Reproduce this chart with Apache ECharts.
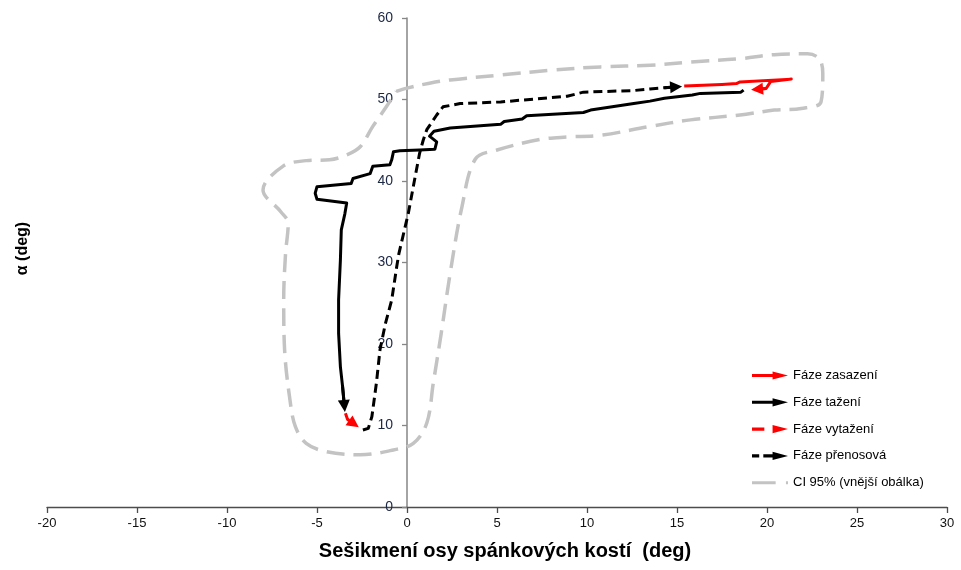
<!DOCTYPE html>
<html>
<head>
<meta charset="utf-8">
<script src="https://cdn.jsdelivr.net/npm/echarts@6/dist/echarts.min.js"></script>
<style>
  html, body { margin: 0; padding: 0; background: #ffffff; }
  #chart { width: 961px; height: 570px; }
</style>
</head>
<body>
<div id="chart"></div>
<script>
// Phase trajectories: [skew of temporal-bone axis (deg), alpha (deg)]
const zasazeni = [
  [15.4, 51.65], [17.5, 51.85], [18.3, 51.95], [18.5, 52.15], [21.35, 52.5],
  [20.2, 52.2], [19.95, 51.35], [19.45, 51.25]
];

const tazeni = [
  [18.7, 51.15], [18.55, 50.9], [16.3, 50.75], [15.85, 50.55], [14.3, 50.15],
  [13.5, 49.8], [12.6, 49.5], [10.2, 48.7], [9.8, 48.4], [6.65, 48.0],
  [6.4, 47.6], [5.4, 47.3], [5.2, 46.95], [2.4, 46.5], [1.5, 46.1],
  [1.25, 45.5], [1.65, 44.8], [1.55, 43.9], [0.7, 43.8], [-0.4, 43.7],
  [-0.75, 43.6], [-0.85, 42.6], [-0.95, 42.0], [-1.9, 41.8], [-2.05, 40.9],
  [-3.0, 40.3], [-3.1, 39.7], [-5.0, 39.3], [-5.1, 38.5], [-5.0, 37.75],
  [-3.35, 37.3], [-3.45, 36.0], [-3.65, 34.0], [-3.7, 30.3], [-3.8, 25.4],
  [-3.8, 21.3], [-3.7, 17.2], [-3.58, 14.8], [-3.48, 12.4]
];

const vytazeni = [
  [-3.42, 11.5], [-3.3, 10.75], [-2.95, 10.2]
];

const prenosova = [
  [-2.45, 9.45], [-2.15, 9.65], [-1.95, 11.1], [-1.7, 15.2], [-1.5, 19.3],
  [-1.2, 22.5], [-0.85, 25.4], [-0.57, 29.5], [-0.45, 31.1], [0.07, 36.0],
  [0.45, 40.5], [0.7, 43.4], [0.9, 45.0], [1.1, 46.3], [1.65, 48.1],
  [2.0, 49.1], [2.95, 49.5], [5.2, 49.7], [8.9, 50.4], [9.8, 50.9],
  [12.6, 51.1], [13.5, 51.3], [14.3, 51.45], [14.95, 51.55]
];

// 95% confidence outer envelope (closed contour)
const ciObalka = [
  [-0.6, 51.0], [0, 51.4], [1.25, 52.0], [2.4, 52.4], [5.2, 53.0],
  [8.0, 53.6], [10.75, 54.0], [13.5, 54.2], [15.75, 54.6], [18.5, 55.0],
  [20.4, 55.5], [22.25, 55.6], [22.9, 55.0], [23.1, 53.2], [23.0, 49.7],
  [21.9, 48.9], [20.4, 48.7], [18.5, 48.1], [15.75, 47.5], [13.5, 46.7],
  [10.75, 45.6], [8.9, 45.4], [7.4, 45.1], [5.0, 43.8], [3.8, 42.7],
  [3.05, 36.8], [2.4, 28.7], [1.9, 21.3], [1.46, 15.2], [1.1, 10.3],
  [0.35, 7.8], [-0.76, 7.0], [-2.6, 6.4], [-4.5, 6.8], [-5.6, 7.8],
  [-6.2, 9.85], [-6.5, 13.1], [-6.8, 19.3], [-6.85, 25.4], [-6.75, 31.0],
  [-6.6, 34.8], [-7.0, 36.2], [-8.0, 38.9], [-6.9, 41.8], [-5.6, 42.5],
  [-4.3, 42.6], [-3.35, 43.2], [-2.6, 44.2], [-1.9, 46.7], [-1.15, 49.1],
  [-0.6, 51.0]
];

const seriesNames = ['Fáze zasazení', 'Fáze tažení', 'Fáze vytažení', 'Fáze přenosová', 'CI 95% (vnější obálka)'];
const xRange = { min: -20, max: 30, interval: 5 };
const yRange = { min: 0, max: 60, interval: 10 };

const RED = '#ff0000';
const BLACK = '#000000';
const GRAY = '#c3c3c3';
const FONT = "'Liberation Sans Narrow', 'Liberation Sans', Arial, sans-serif";

// Plot area in pixels; the vertical axis is drawn through x = 0
const GRID = { left: 47, right: 14, top: 18, bottom: 63 };
const plotWidth = 961 - GRID.left - GRID.right;
const yAxisShift = plotWidth * (0 - xRange.min) / (xRange.max - xRange.min);

// Legend icons: line stroke followed by arrowhead (36 x 12 box)
const icons = {
  solidArrow: 'path://M0,4.5 L21,4.5 L21,7.5 L0,7.5 Z M20,2 L35,6 L20,10 Z',
  dashArrow: 'path://M0,4.5 L12,4.5 L12,7.5 L0,7.5 Z M20,2 L35,6 L20,10 Z',
  dashDashArrow: 'path://M0,4.5 L7,4.5 L7,7.5 L0,7.5 Z M11,4.5 L21,4.5 L21,7.5 L11,7.5 Z M20,2 L35,6 L20,10 Z',
  grayDash: 'path://M0,4.5 L23,4.5 L23,7.5 L0,7.5 Z M33,4.5 L35,4.5 L35,7.5 L33,7.5 Z'
};

function pathSeries(name, data, color, dash, width) {
  return {
    type: 'line', name, data,
    symbol: 'none', smooth: false,
    itemStyle: { color },
    lineStyle: { color, width, type: dash, cap: 'butt', join: 'round' },
    z: 3, silent: true
  };
}

// Arrowhead placed on the final segment of a trajectory
function arrowSeries(name, data, color, dash) {
  return {
    type: 'lines', name, coordinateSystem: 'cartesian2d',
    symbol: ['none', 'triangle'], symbolSize: 12,
    lineStyle: { color, width: 3, opacity: 1, curveness: 0, type: dash },
    data: [{ coords: [data[data.length - 2], data[data.length - 1]] }],
    z: 4, silent: true
  };
}

const chart = echarts.init(document.getElementById('chart'), null, { renderer: 'canvas' });

chart.setOption({
  animation: false,
  backgroundColor: '#ffffff',
  grid: Object.assign({ containLabel: false, outerBoundsMode: 'none' }, GRID),
  xAxis: {
    type: 'value', min: xRange.min, max: xRange.max, interval: xRange.interval,
    name: 'Sešikmení osy spánkových kostí  (deg)',
    nameLocation: 'middle', nameGap: 34,
    nameTextStyle: { fontFamily: FONT, fontSize: 20, fontWeight: 'bold', color: '#000', padding: [0, 0, 0, 16] },
    axisLine: { onZero: true, lineStyle: { color: '#4d4d4d', width: 1.3 } },
    axisTick: { show: true, length: 6, lineStyle: { color: '#4d4d4d', width: 1.3 } },
    axisLabel: { fontFamily: FONT, fontSize: 13, color: '#111', margin: 10 },
    splitLine: { show: false }
  },
  yAxis: {
    type: 'value', min: yRange.min, max: yRange.max, interval: yRange.interval,
    position: 'left', offset: -yAxisShift,
    name: 'α (deg)',
    nameLocation: 'middle', nameGap: 376, nameRotate: 90,
    nameTextStyle: { fontFamily: FONT, fontSize: 16, fontWeight: 'bold', color: '#000', padding: [0, 0, 0, 28] },
    axisLine: { onZero: false, lineStyle: { color: '#868686', width: 1.5 } },
    axisTick: { show: true, length: 5, lineStyle: { color: '#868686', width: 1.3 } },
    axisLabel: { fontFamily: FONT, fontSize: 14, color: '#1c2744', margin: 14 },
    splitLine: { show: false }
  },
  legend: {
    orient: 'vertical', left: 747, top: 364,
    itemWidth: 36, itemHeight: 12, itemGap: 13.8,
    textStyle: { fontFamily: FONT, fontSize: 13, color: '#000' },
    itemStyle: { borderWidth: 0 },
    selectedMode: false,
    data: [
      { name: seriesNames[0], icon: icons.solidArrow },
      { name: seriesNames[1], icon: icons.solidArrow },
      { name: seriesNames[2], icon: icons.dashArrow },
      { name: seriesNames[3], icon: icons.dashDashArrow },
      { name: seriesNames[4], icon: icons.grayDash }
    ]
  },
  series: [
    Object.assign(pathSeries(seriesNames[4], ciObalka, GRAY, [18, 9], 3.5), { smooth: 0.35, z: 2 }),
    pathSeries(seriesNames[0], zasazeni, RED, 'solid', 3),
    pathSeries(seriesNames[1], tazeni, BLACK, 'solid', 3),
    pathSeries(seriesNames[2], vytazeni, RED, [8, 5], 3),
    pathSeries(seriesNames[3], prenosova, BLACK, [9, 5], 3),
    arrowSeries(seriesNames[0], zasazeni, RED, 'solid'),
    arrowSeries(seriesNames[1], tazeni, BLACK, 'solid'),
    arrowSeries(seriesNames[2], vytazeni, RED, 'solid'),
    arrowSeries(seriesNames[3], prenosova, BLACK, 'solid')
  ]
});
</script>
</body>
</html>
